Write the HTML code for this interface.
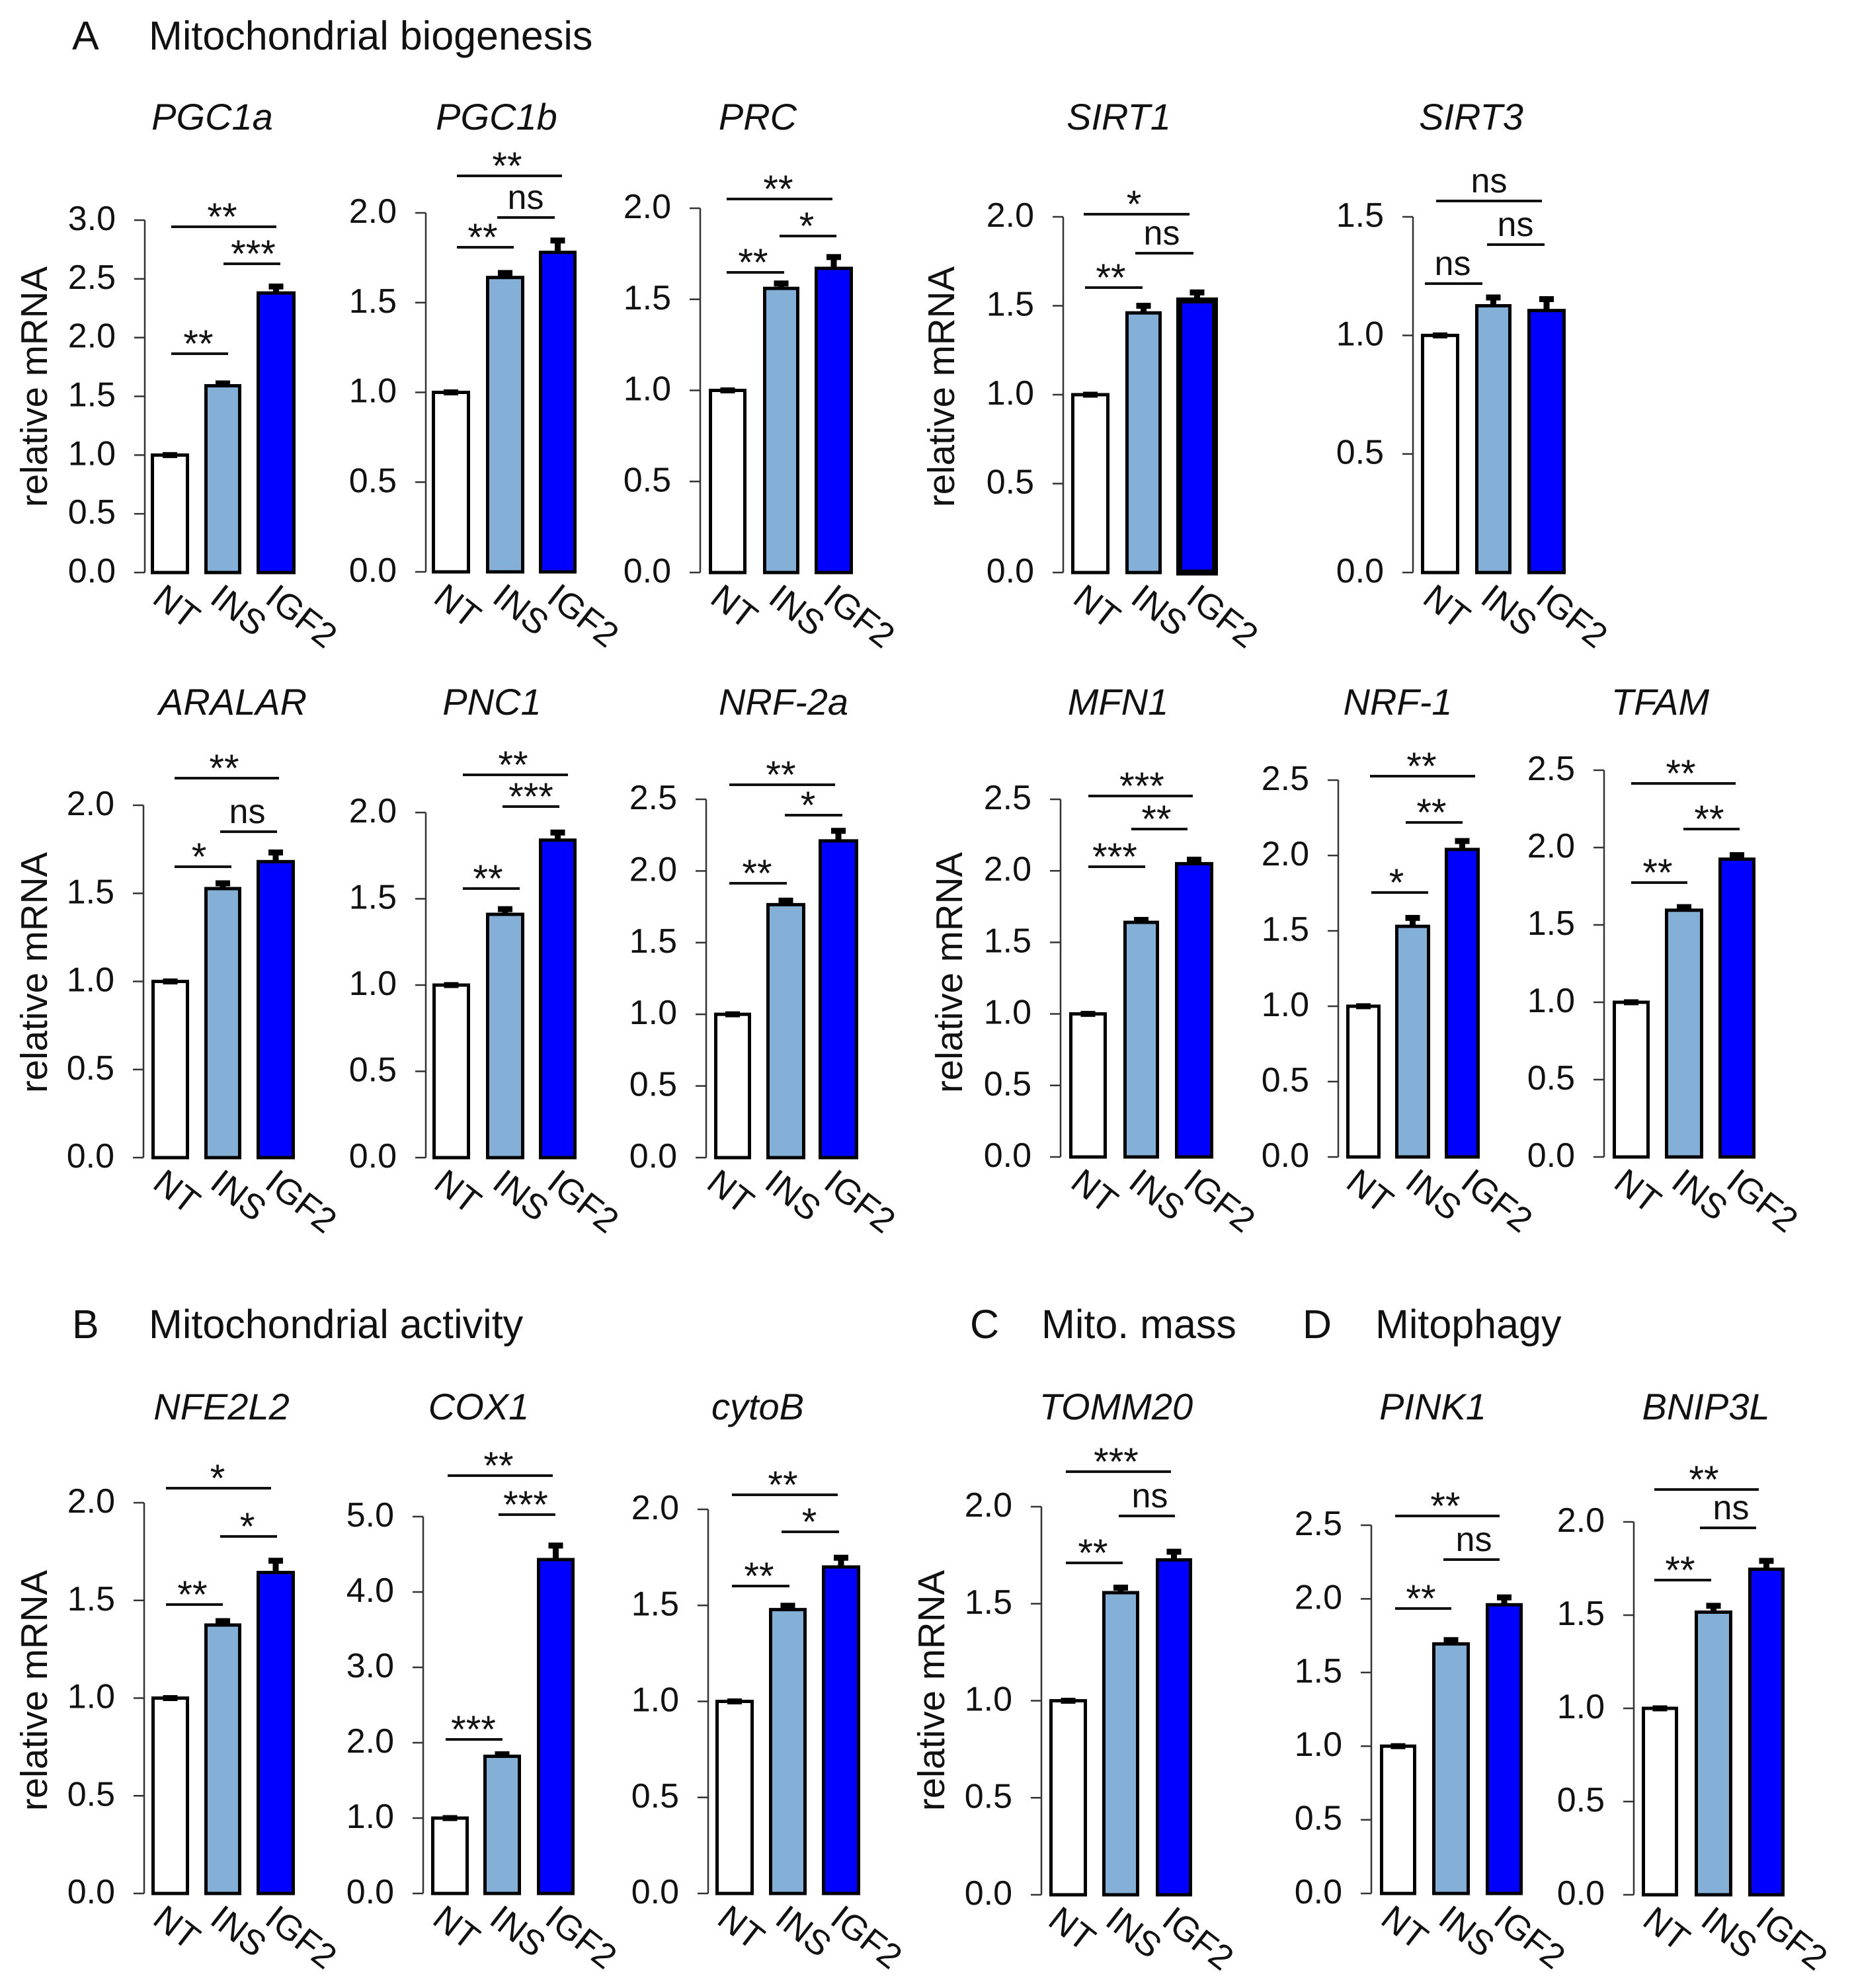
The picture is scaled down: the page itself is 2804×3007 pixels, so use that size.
<!DOCTYPE html>
<html lang="en">
<head>
<meta charset="utf-8">
<title>Relative mRNA panels</title>
<style>
html,body{margin:0;padding:0;background:#fff}
svg{display:block}
text{font-family:"Liberation Sans",Arial,sans-serif;fill:#111}
</style>
</head>
<body>
<svg id="figure" xmlns="http://www.w3.org/2000/svg" width="2804" height="3007" viewBox="0 0 2804 3007">
<rect x="0" y="0" width="2804" height="3007" fill="#fff"/>
<g font-size="61">
<text x="109" y="75">A</text>
<text x="225" y="75">Mitochondrial biogenesis</text>
<text x="109" y="2024">B</text>
<text x="225" y="2024">Mitochondrial activity</text>
<text x="1467" y="2024">C</text>
<text x="1575" y="2024">Mito. mass</text>
<text x="1970" y="2024">D</text>
<text x="2080" y="2024">Mitophagy</text>
</g>
</svg>
<script>
// ---- data ----
const categories = ['NT', 'INS', 'IGF2'];
const genes = ['PGC1a','PGC1b','PRC','SIRT1','SIRT3','ARALAR','PNC1','NRF-2a','MFN1','NRF-1','TFAM','NFE2L2','COX1','cytoB','TOMM20','PINK1','BNIP3L'];
const ntValues   = [1,1,1,1,1,1,1,1,1,1,1,1,1,1,1,1,1];
const insValues  = [1.59,1.64,1.56,1.46,1.125,1.527,1.41,1.765,1.64,1.53,1.595,1.374,1.82,1.478,1.557,1.694,1.516];
const igf2Values = [2.38,1.78,1.67,1.53,1.105,1.68,1.84,2.21,2.05,2.04,1.925,1.643,4.43,1.70,1.726,1.96,1.746];
const ntErrors   = [0,0,0,0,0,0,0,0,0,0,0,0,0,0,0,0,0];
const insErrors  = [.02,.025,.027,.04,.035,.03,.03,.028,.017,.056,.02,.02,.027,.02,.026,.026,.034];
const igf2Errors = [.055,.066,.062,.045,.048,.052,.044,.07,.028,.056,.026,.06,.186,.048,.042,.05,.045];
const ticks05to30 = ['0.0','0.5','1.0','1.5','2.0','2.5','3.0'];
const ticks05to25 = ['0.0','0.5','1.0','1.5','2.0','2.5'];
const ticks05to20 = ['0.0','0.5','1.0','1.5','2.0'];
const ticks05to15 = ['0.0','0.5','1.0','1.5'];
const ticks1to5   = ['0.0','1.0','2.0','3.0','4.0','5.0'];
const panelTicks = [ticks05to30,ticks05to20,ticks05to20,ticks05to20,ticks05to15,ticks05to20,ticks05to20,ticks05to25,ticks05to25,ticks05to25,ticks05to25,ticks05to20,ticks1to5,ticks05to20,ticks05to20,ticks05to25,ticks05to20];
const sigLabels = [
 ['**','***','**'],['**','ns','**'],['**','*','**'],['*','ns','**'],['ns','ns','ns'],
 ['**','ns','*'],['**','***','**'],['**','*','**'],['***','**','***'],['**','**','*'],['**','**','**'],
 ['*','*','**'],['**','***','***'],['**','*','**'],['***','ns','**'],['**','ns','**'],['**','ns','**']
];
// ---- layout (axis frames, not data): axisX, topY, baseY, title centre X, title baseline Y ----
const frames = [
 [219,333,866,321,196],[644,322,865,751,196],[1059,315,866,1146,196],[1608,328,866,1692,196],[2137,328,866,2225,196],
 [217,1218,1751,352,1081],[644,1229,1751,744,1081],[1068,1209,1751,1185,1081],[1604,1209,1750,1691,1081],[2024,1180,1750,2114,1081],[2426,1165,1750,2511,1081],
 [218,2273,2864,335,2147],[640,2294,2864,724,2147],[1071,2283,2864,1146,2147],[1575,2279,2866,1688,2147],[2074,2307,2864,2167,2147],[2471,2302,2866,2580,2147]
];
const barEdges = [
 [229,285,310,364,389,446],[654,710,736,792,816,871],[1073,1128,1155,1208,1233,1289],[1621,1677,1703,1756,1780,1841],[2150,2206,2232,2285,2311,2367],
 [230,285,310,364,389,445],[655,710,736,792,816,871],[1081,1135,1160,1217,1239,1297],[1618,1673,1700,1752,1778,1834],[2037,2087,2111,2162,2186,2237],[2440,2494,2519,2575,2600,2654],
 [230,285,310,364,389,445],[653,708,732,787,813,868],[1083,1139,1164,1219,1244,1300],[1588,1643,1668,1722,1749,1802],[2088,2141,2167,2222,2248,2302],[2484,2537,2564,2619,2645,2698]
];
// bracket geometry: x1, x2, y, label centre x (same order as sigLabels)
const bracketGeometry = [
 [[259,418,343,336],[338,424,399,383],[259,345,535,300]],
 [[691,850,266,767],[752,839,329,795],[691,777,374,730]],
 [[1099,1259,301,1177],[1179,1265,357,1220],[1099,1186,412,1139]],
 [[1639,1799,324,1715],[1717,1805,383,1757],[1641,1728,435,1680]],
 [[2172,2332,304,2252],[2249,2336,370,2292],[2155,2242,429,2197]],
 [[264,422,1177,339],[333,419,1258,374],[264,350,1311,301]],
 [[700,859,1172,776],[760,846,1220,803],[700,786,1344,738]],
 [[1103,1263,1187,1181],[1187,1274,1233,1222],[1103,1190,1336,1145]],
 [[1646,1804,1204,1727],[1711,1796,1254,1749],[1646,1732,1311,1686]],
 [[2072,2231,1174,2150],[2126,2212,1244,2165],[2074,2160,1350,2112]],
 [[2467,2625,1185,2542],[2546,2631,1254,2585],[2467,2552,1335,2507]],
 [[251,410,2251,329],[333,419,2324,374],[251,337,2427,291]],
 [[677,836,2232,754],[754,840,2291,795],[674,760,2631,716]],
 [[1107,1267,2261,1184],[1182,1269,2317,1224],[1107,1194,2399,1148]],
 [[1612,1771,2226,1688],[1692,1777,2293,1739],[1612,1698,2364,1653]],
 [[2110,2268,2293,2186],[2183,2268,2359,2229],[2110,2195,2433,2149]],
 [[2502,2660,2253,2577],[2571,2656,2311,2618],[2502,2588,2390,2541]]
];
const yTitlePanels = {PGC1a:[71,585],SIRT1:[1443,585],ARALAR:[71,1471],MFN1:[1455,1471],NFE2L2:[71,2557],TOMM20:[1428,2557]};
const barFills = ['#ffffff','#84afd6','#0000ff'];
const labelOffsets = [-29,-22,-19];
const labelShift = {'NRF-2a':[-13,-13,-6],'NRF-1':[0,8,14],'TOMM20':[-4,-4,-2]};

// ---- drawing ----
const NS = 'http://www.w3.org/2000/svg';
const svg = document.getElementById('figure');
function mk(tag, attrs, parent){
  const el = document.createElementNS(NS, tag);
  for (const k in attrs) el.setAttribute(k, attrs[k]);
  parent.appendChild(el);
  return el;
}
function slug(s){ return s.toLowerCase().replace(/[^a-z0-9]+/g,'-'); }

genes.forEach(function(gene, p){
  const f = frames[p];
  const axisX = f[0], topY = f[1], baseY = f[2];
  const ticks = panelTicks[p];
  const yMax = parseFloat(ticks[ticks.length-1]);
  const yScale = function(v){ return baseY - v * (baseY - topY) / yMax; };
  const values = [ntValues[p], insValues[p], igf2Values[p]];
  const errors = [ntErrors[p], insErrors[p], igf2Errors[p]];
  const s = slug(gene);

  const g = mk('g', {}, svg);
  
  

  const title = mk('text', {x:f[3], y:f[4], 'text-anchor':'middle', 'font-size':56, 'font-style':'italic'}, g);
  title.textContent = gene;
  
  

  const axis = mk('line', {x1:axisX, x2:axisX, y1:topY, y2:baseY, stroke:'#333', 'stroke-width':2.5}, g);
  
  

  ticks.forEach(function(lbl){
    const y = yScale(parseFloat(lbl));
    const tick = mk('line', {x1:axisX-16, x2:axisX, y1:y, y2:y, stroke:'#333', 'stroke-width':2.5}, g);
    
    
    const t = mk('text', {x:axisX-44, y:y+15, 'text-anchor':'end', 'font-size':52}, g);
    t.textContent = lbl;
    
    
  });

  if (yTitlePanels[gene]) {
    const pos = yTitlePanels[gene];
    const yt = mk('text', {'text-anchor':'middle', 'font-size':56.5, transform:'translate(' + pos[0] + ' ' + pos[1] + ') rotate(-90)'}, g);
    yt.textContent = 'relative mRNA';
    
    
  }

  categories.forEach(function(cat, i){
    const l = barEdges[p][i*2] - 1, r = barEdges[p][i*2+1] + 1;
    const thick = (gene === 'SIRT1' && i === 2) ? 9 : 5;
    const yTop = yScale(values[i]);
    const bar = mk('rect', {x:l+thick/2, y:yTop, width:r-l-thick, height:baseY-yTop, fill:barFills[i], stroke:'#000', 'stroke-width':thick}, g);
    
    

    const cx = (l+r)/2;
    const yErr = yScale(values[i]+errors[i]);
    const stem = mk('rect', {x:cx-4.5, y:yErr, width:9, height:Math.max(0,yTop-yErr), fill:'#000'}, g);
    
    
    const cap = mk('rect', {x:cx-11, y:yErr-4.5, width:22, height:9, fill:'#000'}, g);
    
    

    const shift = labelShift[gene] ? labelShift[gene][i] : 0;
    const lx = cx + labelOffsets[i] + shift, ly = baseY + 44;
    const xl = mk('text', {'font-size':53, transform:'translate(' + lx + ' ' + ly + ') rotate(38)'}, g);
    xl.textContent = cat;
    
    
  });

  bracketGeometry[p].forEach(function(b, i){
    const lbl = sigLabels[p][i];
    const line = mk('line', {x1:b[0], x2:b[1], y1:b[2], y2:b[2], stroke:'#111', 'stroke-width':4}, g);
    
    
    const isNs = lbl === 'ns';
    const ty = isNs ? b[2]-13 : b[2]+5;
    const t = mk('text', {x:b[3], y:ty, 'text-anchor':'middle', 'font-size':isNs ? 52 : 58}, g);
    t.textContent = lbl;
    
    
  });
});
</script>
</body>
</html>
